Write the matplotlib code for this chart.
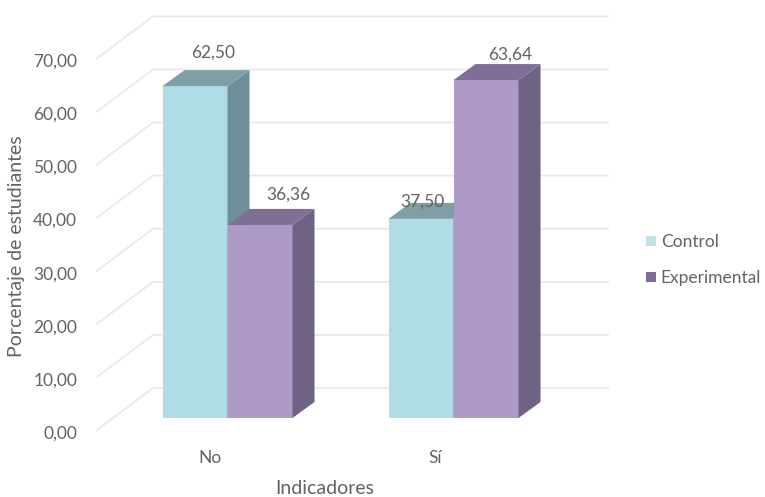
import numpy as np
import matplotlib.pyplot as plt
from matplotlib.patches import Patch, Polygon
from matplotlib.transforms import ScaledTranslation

plt.rcParams["font.family"] = ["Lato", "DejaVu Sans"]

categories = ["No", "Sí"]
control = [62.50, 37.50]
experimental = [36.36, 63.64]
ticks = [0, 10, 20, 30, 40, 50, 60, 70]
tick_labels = ["0,00", "10,00", "20,00", "30,00", "40,00", "50,00", "60,00", "70,00"]

W, H = 765, 497
GREY = "#636363"
GRID = "#ebe8e8"

# pixel layout of the plot box
left, right, bottom, top = 84, 608, 443, 8
x0_px, y0_px = 227.5, 418      # where category 0 / value 0 land
ux, uy = 226.0, 5.31           # pixels per category, pixels per unit

fig = plt.figure(figsize=(W / 100, H / 100), dpi=100)
ax = fig.add_axes([left / W, 1 - bottom / H, (right - left) / W, (bottom - top) / H])
ax.set_xlim((left - x0_px) / ux, (right - x0_px) / ux)
ax.set_ylim((y0_px - bottom) / uy, (y0_px - top) / uy)
for s in ax.spines.values():
    s.set_visible(False)

bar_w = 65 / ux
dx, dy = 22 / ux, 16 / uy      # bar depth


def bar3d(xl, val, front, side, top_c):
    xr = xl + bar_w
    ax.add_patch(Polygon([(xl, 0), (xr, 0), (xr, val), (xl, val)], fc=front, ec="none", zorder=3))
    ax.add_patch(Polygon([(xr, 0), (xr + dx, dy), (xr + dx, val + dy), (xr, val)], fc=side, ec="none", zorder=3))
    ax.add_patch(Polygon([(xl, val), (xr, val), (xr + dx, val + dy), (xl + dx, val + dy)], fc=top_c, ec="none", zorder=3))


# back wall gridlines with their slanted left part
wx0, wx1 = (97 - x0_px) / ux, (153 - x0_px) / ux
wy0, wy1 = (y0_px - 430) / uy, (y0_px - 388) / uy
wx2 = (608 - x0_px) / ux
for t in ticks:
    ax.plot([wx0, wx1, wx2], [t + wy0, t + wy1, t + wy1], color=GRID, lw=1.3, zorder=1, clip_on=False)

label_off = [(18, 17), (28, 14), (1, 1), (24, 9)]
for i in range(len(categories)):
    bar3d(i - bar_w, control[i], "#b0dce7", "#6f8f99", "#7f9ea6")
    bar3d(i, experimental[i], "#ae9ac6", "#6f6283", "#7f6f97")

vals = [control[0], experimental[0], control[1], experimental[1]]
xs = [-bar_w, 0, 1 - bar_w, 1]
txt = ["62,50", "36,36", "37,50", "63,64"]
for x, v, s, off in zip(xs, vals, txt, label_off):
    ax.annotate(s, (x + bar_w / 2, v + dy), xytext=off, textcoords="offset pixels",
                ha="center", va="center", fontsize=12.5, color=GREY, zorder=5)

ax.set_yticks(ticks, tick_labels)
ax.set_xticks(range(len(categories)), categories)
ax.tick_params(length=0, labelsize=12.5, labelcolor=GREY, pad=5)

# tick labels sit at the front edge of the wall, not at the bar scale
off_y = ScaledTranslation(0, -14 / 100, fig.dpi_scale_trans)
off_x = ScaledTranslation(-18 / 100, 0, fig.dpi_scale_trans)
for lab in ax.get_yticklabels():
    lab.set_transform(lab.get_transform() + off_y)
for lab in ax.get_xticklabels():
    lab.set_transform(lab.get_transform() + off_x)

fig.text(17 / W, 1 - 246 / H, "Porcentaje de estudiantes", rotation=90, ha="center", va="center",
         fontsize=14, color=GREY)
fig.text(325 / W, 1 - 489 / H, "Indicadores", ha="center", va="center", fontsize=14, color=GREY)

handles = [Patch(fc="#bfe2e4", label="Control"), Patch(fc="#7f6f97", label="Experimental")]
fig.legend(handles=handles, loc="center left", bbox_to_anchor=(646 / W, 1 - 260 / H), frameon=False,
           fontsize=12.5, labelcolor=GREY, handlelength=0.55, handleheight=0.55, handletextpad=0.3,
           labelspacing=1.15, borderpad=0, borderaxespad=0)

fig.savefig("out.png", dpi=100)
